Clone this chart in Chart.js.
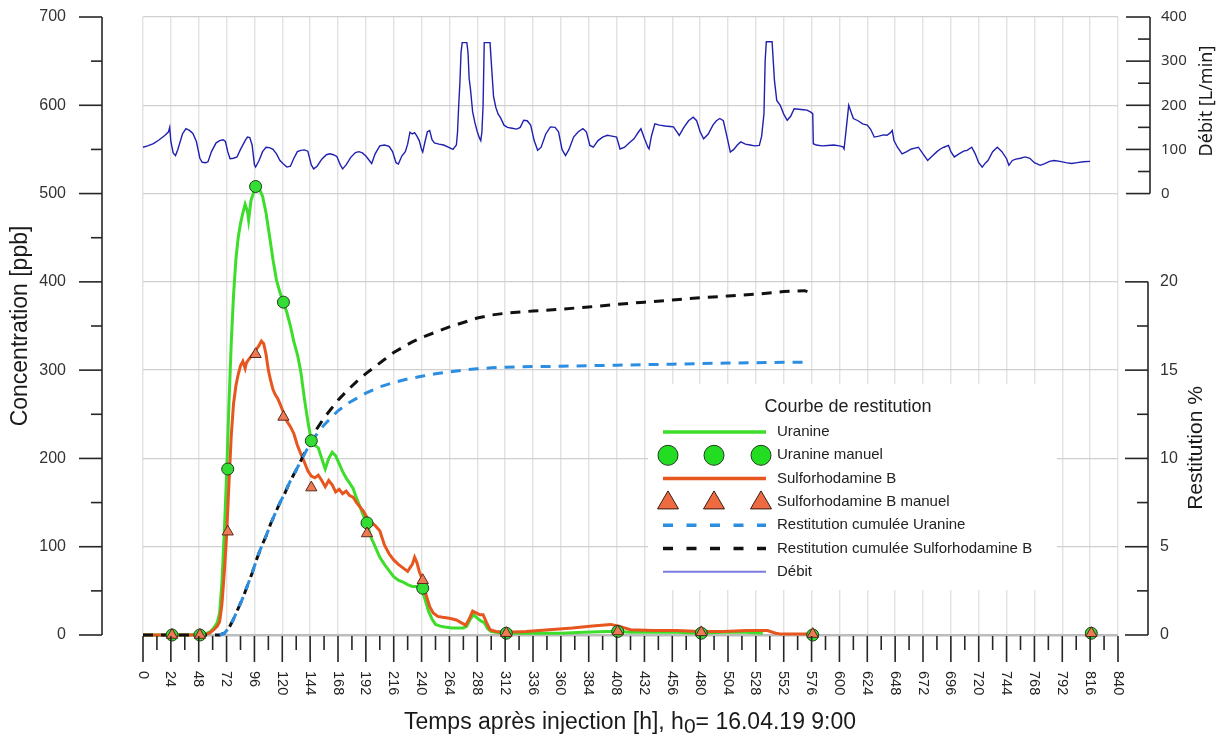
<!DOCTYPE html>
<html><head><meta charset="utf-8">
<script src="https://cdn.jsdelivr.net/npm/chart.js@4.4.1/dist/chart.umd.min.js"></script>
<style>html,body{margin:0;padding:0;background:#fff;overflow:hidden}canvas{display:block}</style>
</head><body>
<canvas id="c" width="1226" height="744"></canvas>
<script>
// ---------- axis ticks ----------
const xTickValues = [0,24,48,72,96,120,144,168,192,216,240,264,288,312,336,360,384,408,432,456,480,504,528,552,576,600,624,648,672,696,720,744,768,792,816,840];
const xTickLabels = ['0','24','48','72','96','120','144','168','192','216','240','264','288','312','336','360','384','408','432','456','480','504','528','552','576','600','624','648','672','696','720','744','768','792','816','840'];
const concTicks = [0,100,200,300,400,500,600,700];
const debitTicks = [0,100,200,300,400];
const restTicks = [0,5,10,15,20];

// ---------- series ----------
const uranineT = [0,10,20,30,40,50,55,58,61,64,66,68,70,72,74,76,78,80,82,84,86,88,90,91,93,95,97,100,103,106,109,112,115,118,121,124,127,130,133,136,139,142,145,148,151,154,157,160,163,166,169,172,175,178,181,184,187,190,193,196,200,204,208,212,216,220,224,228,232,236,240,243,246,249,252,256,260,266,272,276,279,282,285,288,291,294,297,300,304,310,320,340,360,380,400,410,420,440,460,480,500,520,534];
const uranineC = [0,0,0,0,0,1,2,4,8,14,25,60,115,180,260,330,385,425,450,466,478,488,480,470,492,500,508,506,497,478,452,425,402,388,377,365,350,332,318,298,268,242,220,215,212,200,188,200,207,203,194,185,178,172,166,155,145,135,127,112,100,88,80,73,66,62,60,57,55,55,53,40,27,18,12,10,9,8,8,8,10,18,23,19,16,14,7,4,3,2,2,2,2,3,4,4,3,3,3,2,3,3,2];

const sulfoT = [0,10,20,30,40,50,55,58,61,64,66,68,70,72,74,76,78,80,82,84,86,88,89,91,94,97,100,102,104,106,108,110,112,114,116,118,121,124,127,130,133,136,139,142,145,148,151,154,157,160,163,166,169,172,175,178,181,184,187,190,193,196,200,204,208,212,216,220,224,228,232,234,236,238,241,244,247,250,254,258,264,270,274,278,281,284,287,290,293,296,299,304,312,330,350,370,385,395,403,410,420,440,460,480,500,520,538,545,550,560,577];
const sulfoC = [0,0,0,0,0,0,1,3,6,10,15,35,70,112,170,225,262,282,295,305,310,302,308,312,317,322,328,333,330,318,300,288,278,272,268,262,252,242,236,228,215,205,196,186,180,178,181,175,168,175,170,162,165,160,163,158,156,150,145,140,133,128,124,118,102,92,85,80,76,72,80,88,82,72,62,45,32,25,21,20,19,17,14,11,18,27,25,23,23,14,6,4,3,4,6,8,10,11,12,10,6,5,5,4,4,5,5,2,1,1,1];

const manualT = [25,49,73,97,121,145,193,241,313,409,481,577,817];
const uranineManual = [0,0,188,508,377,220,127,53,2,4,2,0,2];
const sulfoManual = [0,0,117,318,247,167,115,62,2,4,3,1,2];

const restUT = [66,70,74,78,82,86,90,94,98,102,106,110,114,118,122,126,130,134,138,142,146,150,156,162,168,176,184,192,204,216,228,240,252,264,276,288,300,312,336,360,384,408,432,456,480,504,528,552,574];
const restUV = [0,0.1,0.4,0.9,1.5,2.1,2.8,3.5,4.3,5.0,5.6,6.3,6.9,7.5,8.0,8.6,9.1,9.6,10.1,10.6,11.0,11.4,11.9,12.3,12.7,13.1,13.4,13.7,14.05,14.3,14.5,14.65,14.8,14.9,15.0,15.08,15.13,15.17,15.2,15.22,15.25,15.28,15.31,15.34,15.37,15.4,15.42,15.44,15.45];

const restST = [0,24,48,66,70,74,78,82,86,90,94,98,102,106,110,114,118,122,126,130,134,138,142,146,150,156,162,168,176,184,192,200,208,216,224,232,240,252,264,276,288,300,312,336,360,384,408,432,456,480,504,528,552,570,577];
const restSV = [0,0,0,0,0.1,0.4,0.9,1.5,2.1,2.8,3.5,4.3,5.0,5.6,6.3,6.9,7.5,8.0,8.6,9.1,9.6,10.15,10.7,11.2,11.7,12.3,12.8,13.3,13.85,14.35,14.8,15.2,15.6,16.0,16.3,16.6,16.85,17.15,17.45,17.7,17.95,18.12,18.22,18.35,18.45,18.58,18.72,18.85,18.97,19.1,19.2,19.3,19.45,19.5,19.35];

const debitT = [0,4,9,14,19,22,23,24,26,28,30,34,37,40,43,46,49,51,54,56,59,63,66,69,71,73,75,78,81,84,88,90,92,94,96,97,100,103,106,109,112,115,118,121,124,127,130,133,136,139,142,145,147,150,154,158,161,164,167,170,172,175,179,183,186,189,192,195,197,200,204,208,212,215,218,220,223,226,228,230,232,234,236,238,240,241,243,245,247,249,251,255,259,263,267,270,271,272,273,274,275,279,280,281,282,284,286,288,290,291,292,293,294,299,300,302,304,306,308,311,314,318,322,325,328,331,334,337,340,343,347,351,355,358,361,364,367,371,375,379,382,385,388,392,396,400,404,408,411,415,419,423,427,429,432,435,436,438,441,445,450,454,457,460,462,466,470,474,477,480,483,487,491,494,497,500,503,506,509,512,515,519,523,527,531,533,535,536,537,542,543,544,546,549,552,555,558,561,565,569,572,575,577,577.5,580,585,590,595,600,603,604,606,608,610,612,616,620,624,627,630,634,638,641,644,645.5,647,650,654,658,662,665,668,672,676,680,684,687,690,694,696,699,703,707,710,714,717,720,723,726,728,732,736,740,744,746,749,752,756,760,764,768,773,777,781,785,790,795,800,805,810,816];
const debitV = [105,108,113,122,132,140,150,118,92,86,100,135,147,143,136,118,80,71,70,72,95,115,120,122,118,95,79,80,83,100,120,128,127,110,65,60,75,95,105,104,100,90,75,67,60,62,80,95,98,99,96,65,56,62,78,88,90,88,84,65,56,65,82,93,95,92,85,75,68,90,108,110,107,95,70,67,85,95,112,139,135,138,130,120,100,94,118,140,143,122,115,112,110,105,100,110,140,200,250,320,342,342,320,260,240,185,160,140,125,120,140,200,342,342,300,220,195,180,172,155,150,148,146,150,166,165,155,120,98,105,135,151,150,140,100,86,100,128,140,147,140,109,105,120,128,132,130,128,101,105,115,124,140,147,125,105,101,130,158,155,153,152,151,140,132,150,165,173,165,140,124,135,155,165,170,165,130,94,100,110,117,112,110,108,109,130,181,300,344,344,300,257,211,200,180,166,175,192,191,190,189,185,181,113,110,108,109,110,108,106,101,150,200,185,170,165,158,155,145,128,130,133,132,138,143,120,105,90,95,101,103,105,90,75,85,95,101,105,109,95,83,90,96,98,105,90,70,60,70,75,95,105,95,79,64,75,78,80,83,80,70,64,68,73,75,73,70,68,70,72,73];

const labels = ['Uranine','Uranine manuel','Sulforhodamine B','Sulforhodamine B manuel','Restitution cumulée Uranine','Restitution cumulée Sulforhodamine B','Débit'];
const legendTitle = 'Courbe de restitution';
const yTitle = 'Concentration [ppb]';
const restTitle = 'Restitution %';
const debitTitle = 'Débit [L/min]';
const xTitleParts = ['Temps après injection [h], h', '0', '= 16.04.19 9:00'];

// ---------- styles ----------
const GREEN = '#3ddd2b', ORANGE = '#e8561f', BLUE = '#2c8ee0', BLACK = '#111111', NAVY = '#2020b0';
const F = '"Liberation Sans", Arial, sans-serif';
const F2 = '"Noto Sans", "Open Sans", sans-serif';

const pts = (xs, ys) => xs.map((x, i) => ({x, y: ys[i]})).filter(p => p.y !== undefined);

const datasets = [
  {label: labels[0], data: pts(uranineT, uranineC), showLine: true, borderColor: GREEN, borderWidth: 3, pointRadius: 0, tension: 0, yAxisID: 'y', order: 5, clip: false},
  {label: labels[1], data: pts(manualT, uranineManual), showLine: false, pointStyle: 'circle', pointRadius: 6, backgroundColor: '#33dd33', borderColor: '#1e3d1e', borderWidth: 1, yAxisID: 'y', order: 1, clip: false},
  {label: labels[2], data: pts(sulfoT, sulfoC), showLine: true, borderColor: ORANGE, borderWidth: 3, pointRadius: 0, tension: 0, yAxisID: 'y', order: 4, clip: false},
  {label: labels[3], data: pts(manualT, sulfoManual), showLine: false, pointStyle: 'triangle', pointRadius: 6.5, backgroundColor: '#ee7a55', borderColor: '#5a2a1a', borderWidth: 1, yAxisID: 'y', order: 0, clip: false},
  {label: labels[4], data: pts(restUT, restUV), showLine: true, borderColor: BLUE, borderWidth: 3, borderDash: [10, 8], pointRadius: 0, tension: 0, yAxisID: 'y3', order: 2, clip: false},
  {label: labels[5], data: pts(restST, restSV), showLine: true, borderColor: BLACK, borderWidth: 3, borderDash: [10, 8], pointRadius: 0, tension: 0, yAxisID: 'y3', order: 3, clip: false},
  {label: labels[6], data: pts(debitT, debitV), showLine: true, borderColor: NAVY, borderWidth: 1.4, pointRadius: 0, tension: 0, yAxisID: 'y2', order: 6, clip: false}
];

function seg(ctx, x1, y1, x2, y2) { ctx.beginPath(); ctx.moveTo(x1, y1); ctx.lineTo(x2, y2); ctx.stroke(); }
function mids(arr) { const m = []; for (let i = 0; i < arr.length - 1; i++) m.push((arr[i] + arr[i + 1]) / 2); return m; }

const axesPlugin = {
  id: 'customAxes',
  afterDraw(chart) {
    const ctx = chart.ctx;
    const {x, y, y2, y3} = chart.scales;
    ctx.save();
    ctx.strokeStyle = '#262626'; ctx.lineWidth = 1.6; ctx.lineCap = 'butt';

    // left concentration axis
    const LX = 102;
    seg(ctx, LX, y.getPixelForValue(concTicks[concTicks.length - 1]), LX, y.getPixelForValue(0));
    ctx.fillStyle = '#333'; ctx.font = '16px ' + F; ctx.textAlign = 'right'; ctx.textBaseline = 'middle';
    concTicks.forEach(v => { const p = y.getPixelForValue(v); seg(ctx, 79, p, LX, p); ctx.fillText(String(v), 66, p); });
    mids(concTicks).forEach(v => { const p = y.getPixelForValue(v); seg(ctx, 91, p, LX, p); });

    // débit axis (right, top)
    const DX = 1150;
    seg(ctx, DX, y2.getPixelForValue(400), DX, y2.getPixelForValue(0));
    ctx.textAlign = 'left'; ctx.font = '15px ' + F2;
    debitTicks.forEach(v => { const p = y2.getPixelForValue(v); seg(ctx, 1126, p, DX, p); ctx.fillText(String(v), 1161, p); });
    mids(debitTicks).forEach(v => { const p = y2.getPixelForValue(v); seg(ctx, 1138, p, DX, p); });

    // restitution axis (right, bottom)
    const RX = 1148;
    seg(ctx, RX, y3.getPixelForValue(20), RX, y3.getPixelForValue(0));
    ctx.font = '16px ' + F;
    restTicks.forEach(v => { const p = y3.getPixelForValue(v); seg(ctx, 1125, p, RX, p); ctx.fillText(String(v), 1160, p); });
    mids(restTicks).forEach(v => { const p = y3.getPixelForValue(v); seg(ctx, 1137, p, RX, p); });

    // x axis ticks and rotated labels
    const base = y.getPixelForValue(0) + 1;
    xTickValues.forEach(v => { const p = x.getPixelForValue(v); seg(ctx, p, base, p, base + 26); });
    mids(xTickValues).forEach(v => { const p = x.getPixelForValue(v); seg(ctx, p, base, p, base + 14); });
    ctx.font = '14.5px ' + F; ctx.fillStyle = '#222';
    xTickValues.forEach((v, i) => {
      const p = x.getPixelForValue(v);
      ctx.save(); ctx.translate(p, base + 35); ctx.rotate(Math.PI / 2);
      ctx.textAlign = 'left'; ctx.textBaseline = 'middle'; ctx.fillText(xTickLabels[i], 0, 0.5); ctx.restore();
    });

    // titles
    ctx.fillStyle = '#1a1a1a';
    ctx.save(); ctx.translate(21, 326); ctx.rotate(-Math.PI / 2); ctx.font = '23px ' + F; ctx.textAlign = 'center'; ctx.textBaseline = 'middle'; ctx.fillText(yTitle, 0, 0); ctx.restore();
    ctx.save(); ctx.translate(1196, 448); ctx.rotate(-Math.PI / 2); ctx.font = '21px ' + F; ctx.textAlign = 'center'; ctx.textBaseline = 'middle'; ctx.fillText(restTitle, 0, 0); ctx.restore();
    ctx.save(); ctx.translate(1207, 101); ctx.rotate(-Math.PI / 2); ctx.font = '18px ' + F2; ctx.textAlign = 'center'; ctx.textBaseline = 'middle'; ctx.fillText(debitTitle, 0, 0); ctx.restore();

    // x title with subscript
    ctx.font = '23px ' + F; ctx.textAlign = 'left'; ctx.textBaseline = 'alphabetic';
    const w0 = ctx.measureText(xTitleParts[0]).width;
    ctx.font = '21px ' + F; const w1 = ctx.measureText(xTitleParts[1]).width;
    ctx.font = '23px ' + F; const w2 = ctx.measureText(xTitleParts[2]).width;
    let tx = 630 - (w0 + w1 + w2) / 2; const ty = 729;
    ctx.fillText(xTitleParts[0], tx, ty); tx += w0;
    ctx.font = '21px ' + F; ctx.fillText(xTitleParts[1], tx, ty + 4); tx += w1;
    ctx.font = '23px ' + F; ctx.fillText(xTitleParts[2], tx, ty);

    // legend
    const L = {x0: 648, y0: 384, x1: 1057, y1: 590};
    ctx.fillStyle = '#fff'; ctx.fillRect(L.x0, L.y0, L.x1 - L.x0, L.y1 - L.y0);
    ctx.fillStyle = '#222'; ctx.font = '18px ' + F; ctx.textAlign = 'center'; ctx.textBaseline = 'middle';
    ctx.fillText(legendTitle, 848, 407);
    const sx0 = 663, sx1 = 766, mx = [668, 714, 761];
    chart.data.datasets.forEach((ds, i) => {
      const yy = 432 + i * 23.3;
      ctx.save();
      if (ds.showLine) {
        ctx.strokeStyle = i === 6 ? '#7a7ae0' : ds.borderColor;
        ctx.lineWidth = i === 6 ? 2 : 3.5;
        ctx.setLineDash(ds.borderDash ? [10, 13.5] : []);
        seg(ctx, sx0, yy, sx1, yy);
      } else if (ds.pointStyle === 'circle') {
        ctx.fillStyle = '#22dd22'; ctx.strokeStyle = '#1e3d1e'; ctx.lineWidth = 1;
        mx.forEach(cx => { ctx.beginPath(); ctx.arc(cx, yy, 10, 0, Math.PI * 2); ctx.fill(); ctx.stroke(); });
      } else {
        ctx.fillStyle = '#ee6a40'; ctx.strokeStyle = '#3a1a10'; ctx.lineWidth = 1;
        mx.forEach(cx => { ctx.beginPath(); ctx.moveTo(cx, yy - 11); ctx.lineTo(cx + 10.5, yy + 7); ctx.lineTo(cx - 10.5, yy + 7); ctx.closePath(); ctx.fill(); ctx.stroke(); });
      }
      ctx.restore();
      ctx.fillStyle = '#222'; ctx.font = '15px ' + F; ctx.textAlign = 'left'; ctx.textBaseline = 'middle';
      ctx.fillText(ds.label, 777, yy);
    });
    ctx.restore();
  }
};

new Chart(document.getElementById('c'), {
  type: 'scatter',
  data: {datasets},
  options: {
    responsive: false, animation: false, devicePixelRatio: 1,
    layout: {padding: {left: 143, right: 108, top: 17, bottom: 109}},
    plugins: {legend: {display: false}, tooltip: {enabled: false}},
    scales: {
      x: {type: 'linear', min: 0, max: 840,
          afterBuildTicks: s => { s.ticks = xTickValues.map(v => ({value: v})); },
          ticks: {display: false}, border: {display: false},
          grid: {color: '#e2e2e2', lineWidth: 1.4, drawTicks: false}},
      y: {type: 'linear', min: 0, max: 700,
          afterBuildTicks: s => { s.ticks = concTicks.map(v => ({value: v})); },
          ticks: {display: false}, border: {display: false},
          grid: {color: c => c.tick.value === 0 ? '#bcbcbc' : '#d0d0d0', lineWidth: c => c.tick.value === 0 ? 2.5 : 1.3, drawTicks: false}},
      y2: {type: 'linear', display: false, min: -1000, max: 400},
      y3: {type: 'linear', display: false, min: 0, max: 35}
    }
  },
  plugins: [axesPlugin]
});
</script>
</body></html>
